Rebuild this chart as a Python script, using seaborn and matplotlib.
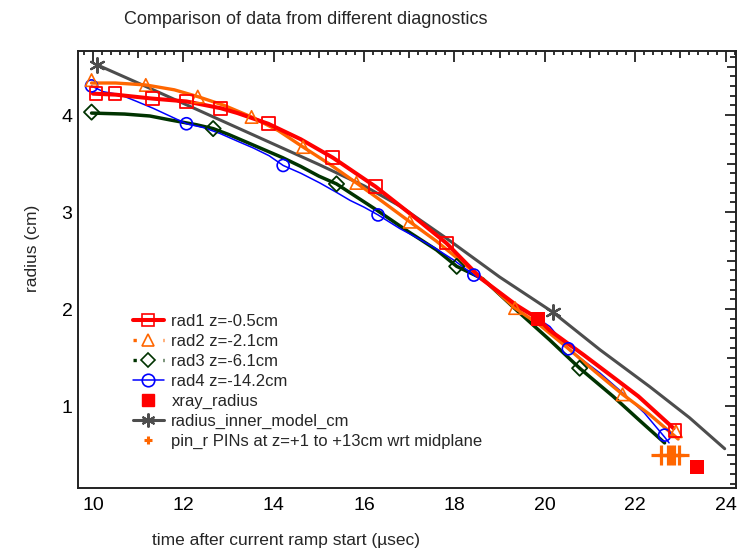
import matplotlib
matplotlib.use("Agg")
import matplotlib.pyplot as plt
from matplotlib.lines import Line2D
from matplotlib.ticker import MultipleLocator, FuncFormatter
import seaborn as sns

# ---- data (time in usec, radius in cm) ----
rad1_t = [10.0, 10.5, 11.3, 12.07, 12.83, 13.2, 13.88, 14.6, 15.31, 16.26, 17.0,
          17.82, 18.6, 19.37, 19.85, 20.11, 20.85, 21.59, 22.07, 22.85]
rad1_r = [4.22, 4.21, 4.17, 4.14, 4.07, 4.02, 3.91, 3.75, 3.56, 3.26, 2.99,
          2.68, 2.31, 2.04, 1.90, 1.78, 1.53, 1.27, 1.10, 0.77]
rad1_mt = [10.07, 10.49, 11.32, 12.07, 12.83, 13.88, 15.31, 16.26, 17.82, 22.88]
rad1_mr = [4.22, 4.22, 4.17, 4.14, 4.07, 3.91, 3.56, 3.26, 2.68, 0.75]

rad2_t = [9.97, 10.5, 11.17, 11.8, 12.32, 12.9, 13.51, 14.1, 14.65, 15.25, 15.83,
          16.4, 17.01, 17.6, 18.18, 18.8, 19.34, 19.9, 20.5, 21.1, 21.72, 22.3, 22.95]
rad2_r = [4.33, 4.33, 4.31, 4.26, 4.19, 4.10, 3.98, 3.84, 3.67, 3.49, 3.30,
          3.11, 2.90, 2.70, 2.48, 2.24, 2.01, 1.83, 1.60, 1.36, 1.12, 0.92, 0.66]
rad2_mt = [9.97, 11.17, 12.32, 13.51, 14.65, 15.83, 17.01, 19.34, 21.72, 22.9]
rad2_mr = [4.36, 4.31, 4.19, 3.98, 3.67, 3.30, 2.90, 2.01, 1.12, 0.74]

rad3_t = [9.97, 10.7, 11.26, 11.7, 12.29, 12.66, 13.0, 13.7, 14.2, 14.6, 15.0, 15.39,
          16.28, 16.94, 17.6, 18.05, 18.63, 19.0, 19.37, 20.11, 20.77, 21.51, 22.1, 22.65]
rad3_r = [4.02, 4.01, 3.99, 3.95, 3.90, 3.86, 3.80, 3.66, 3.56, 3.47, 3.37, 3.29,
          3.02, 2.81, 2.61, 2.44, 2.31, 2.15, 1.99, 1.68, 1.39, 1.10, 0.85, 0.62]
rad3_mt = [9.97, 12.66, 15.39, 18.05, 20.77]
rad3_mr = [4.03, 3.86, 3.29, 2.44, 1.39]

rad4_t = [9.97, 10.23, 10.6, 10.97, 11.33, 11.7, 12.07, 12.45, 12.81, 13.2, 13.55,
          13.9, 14.21, 14.6, 15.02, 15.4, 15.69, 16.0, 16.31, 16.79, 17.15, 17.53,
          18.0, 18.43, 19.0, 19.37, 19.75, 20.11, 20.52, 20.85, 21.22, 21.81, 22.2,
          22.65, 22.75]
rad4_r = [4.30, 4.24, 4.21, 4.14, 4.07, 3.99, 3.91, 3.87, 3.81, 3.73, 3.66,
          3.58, 3.48, 3.40, 3.30, 3.20, 3.12, 3.05, 2.97, 2.83, 2.74, 2.64,
          2.50, 2.35, 2.18, 2.02, 1.93, 1.82, 1.59, 1.47, 1.34, 1.10, 0.93,
          0.68, 0.62]
rad4_mt = [9.97, 12.07, 14.21, 16.31, 18.43, 20.52, 22.65]
rad4_mr = [4.30, 3.91, 3.48, 2.97, 2.35, 1.59, 0.70]

model_t = [10.08, 11.0, 12.0, 13.0, 14.0, 15.0, 16.0, 16.8, 17.82, 19.0, 20.17,
           21.22, 22.32, 23.2, 23.98]
model_r = [4.52, 4.33, 4.12, 3.91, 3.70, 3.49, 3.27, 3.06, 2.73, 2.33, 1.97,
           1.58, 1.20, 0.88, 0.56]
model_mt = [10.08, 20.17]
model_mr = [4.52, 1.97]

xray_t = [19.85, 23.36]
xray_r = [1.90, 0.37]

pin_t = [22.57, 22.72, 22.79, 22.86, 22.97]
pin_r = [0.5, 0.5, 0.5, 0.5, 0.5]

labels = ["rad1 z=-0.5cm", "rad2 z=-2.1cm", "rad3 z=-6.1cm", "rad4 z=-14.2cm",
          "xray_radius", "radius_inner_model_cm",
          "pin_r PINs at z=+1 to +13cm wrt midplane"]

RED, ORANGE, GREEN, BLUE, GRAY = "#ff0000", "#ff6600", "#003300", "#0000ff", "#4d4d4d"

sns.set_theme(style="white")
plt.rcParams["font.family"] = ["Liberation Sans", "DejaVu Sans"]

fig = plt.figure(figsize=(7.37, 5.58), dpi=100)
ax = fig.add_axes([78 / 737, 70 / 558, 658 / 737, 437 / 558])

# lines
sns.lineplot(x=model_t, y=model_r, color=GRAY, linewidth=2.2, estimator=None, sort=False, ax=ax)
sns.lineplot(x=rad3_t, y=rad3_r, color=GREEN, linewidth=2.5, estimator=None, sort=False, ax=ax)
sns.lineplot(x=rad4_t, y=rad4_r, color=BLUE, linewidth=1.1, estimator=None, sort=False, ax=ax)
sns.lineplot(x=rad2_t, y=rad2_r, color=ORANGE, linewidth=2.4, estimator=None, sort=False, ax=ax)
sns.lineplot(x=rad1_t, y=rad1_r, color=RED, linewidth=2.9, estimator=None, sort=False, ax=ax)

# markers
sns.scatterplot(x=model_mt, y=model_mr, marker=(6, 2, 0), s=110, color=GRAY, linewidth=1.6, ax=ax, zorder=4)
sns.scatterplot(x=rad3_mt, y=rad3_mr, marker="D", s=60, color=GREEN, facecolor="none", edgecolor=GREEN, linewidth=1.3, ax=ax, zorder=4)
sns.scatterplot(x=rad4_mt, y=rad4_mr, marker="o", s=75, color=BLUE, facecolor="none", edgecolor=BLUE, linewidth=1.2, ax=ax, zorder=4)
sns.scatterplot(x=rad2_mt, y=rad2_mr, marker="^", s=80, color=ORANGE, facecolor="none", edgecolor=ORANGE, linewidth=1.2, ax=ax, zorder=4)
sns.scatterplot(x=rad1_mt, y=rad1_mr, marker="s", s=85, color=RED, facecolor="none", edgecolor=RED, linewidth=1.3, ax=ax, zorder=5)
sns.scatterplot(x=xray_t, y=xray_r, marker="s", s=95, color=RED, edgecolor=RED, linewidth=0, ax=ax, zorder=6)
sns.scatterplot(x=pin_t, y=pin_r, marker="+", s=210, color=ORANGE, linewidth=2.3, ax=ax, zorder=6)

ax.set_xlim(9.67, 24.23)
ax.set_ylim(0.155, 4.66)
ax.set_xlabel("")
ax.set_ylabel("")

# ticks
ax.xaxis.set_major_locator(MultipleLocator(1))
ax.xaxis.set_minor_locator(MultipleLocator(0.2))
ax.yaxis.set_major_locator(MultipleLocator(0.5))
ax.yaxis.set_minor_locator(MultipleLocator(0.1))
ax.xaxis.set_major_formatter(FuncFormatter(lambda v, p: f"{v:.0f}" if round(v) % 2 == 0 else ""))
ax.yaxis.set_major_formatter(FuncFormatter(lambda v, p: f"{v:.0f}" if abs(v - round(v)) < 1e-6 else ""))
ax.tick_params(which="both", direction="in", top=True, right=True, width=1.3, color="#222222")
ax.tick_params(which="major", length=8, labelsize=14, labelcolor="black")
ax.tick_params(axis="x", which="major", pad=6.5)
ax.tick_params(axis="y", which="major", pad=4)
ax.tick_params(axis="x", which="minor", length=3)
ax.tick_params(axis="y", which="minor", length=4.3)
for spine in ax.spines.values():
    spine.set_linewidth(1.4)
    spine.set_color("#222222")

for t, loc in zip(ax.xaxis.get_major_ticks(), ax.xaxis.get_majorticklocs()):
    if round(loc) % 2 == 1:
        t.tick1line.set_markersize(5)
        t.tick2line.set_markersize(5)
for t, loc in zip(ax.yaxis.get_major_ticks(), ax.yaxis.get_majorticklocs()):
    if abs(loc - round(loc)) > 1e-6:
        t.tick1line.set_markersize(6.5)
        t.tick2line.set_markersize(6.5)

# titles and axis labels placed like the reference
fig.text(306 / 737, 1 - 19 / 558, "Comparison of data from different diagnostics",
         ha="center", va="center", fontsize=13)
fig.text(286 / 737, 1 - 541 / 558, "time after current ramp start (µsec)",
         ha="center", va="center", fontsize=12.5)
fig.text(33 / 737, 1 - 248 / 558, "radius (cm)", rotation=90,
         ha="center", va="center", fontsize=12.5)

# legend
handles = [
    Line2D([], [], color=RED, lw=2.9, marker="s", ms=8, mfc="none", mec=RED, mew=1.2),
    Line2D([], [], color=ORANGE, lw=2.4, ls=(0, (1, 8)), marker="^", ms=9, mfc="none", mec=ORANGE, mew=1.2),
    Line2D([], [], color=GREEN, lw=2.4, ls=(0, (1, 8)), marker="D", ms=7, mfc="none", mec=GREEN, mew=1.2),
    Line2D([], [], color=BLUE, lw=1.1, marker="o", ms=9, mfc="none", mec=BLUE, mew=1.2),
    Line2D([], [], ls="", marker="s", ms=9, color=RED),
    Line2D([], [], color=GRAY, lw=2.2, marker=(6, 2, 0), ms=10, mew=1.5),
    Line2D([], [], ls="", marker="+", ms=6, mew=2.2, color=ORANGE),
]
ax.legend(handles, labels, loc="upper left", bbox_to_anchor=(133 / 737, 1 - 314 / 558),
          bbox_transform=fig.transFigure, frameon=False, borderpad=0, borderaxespad=0,
          labelspacing=0.3, handlelength=1.85, handletextpad=0.45,
          prop={"family": "Liberation Sans", "size": 12})

fig.savefig("out.png", dpi=100)
plt.close(fig)
